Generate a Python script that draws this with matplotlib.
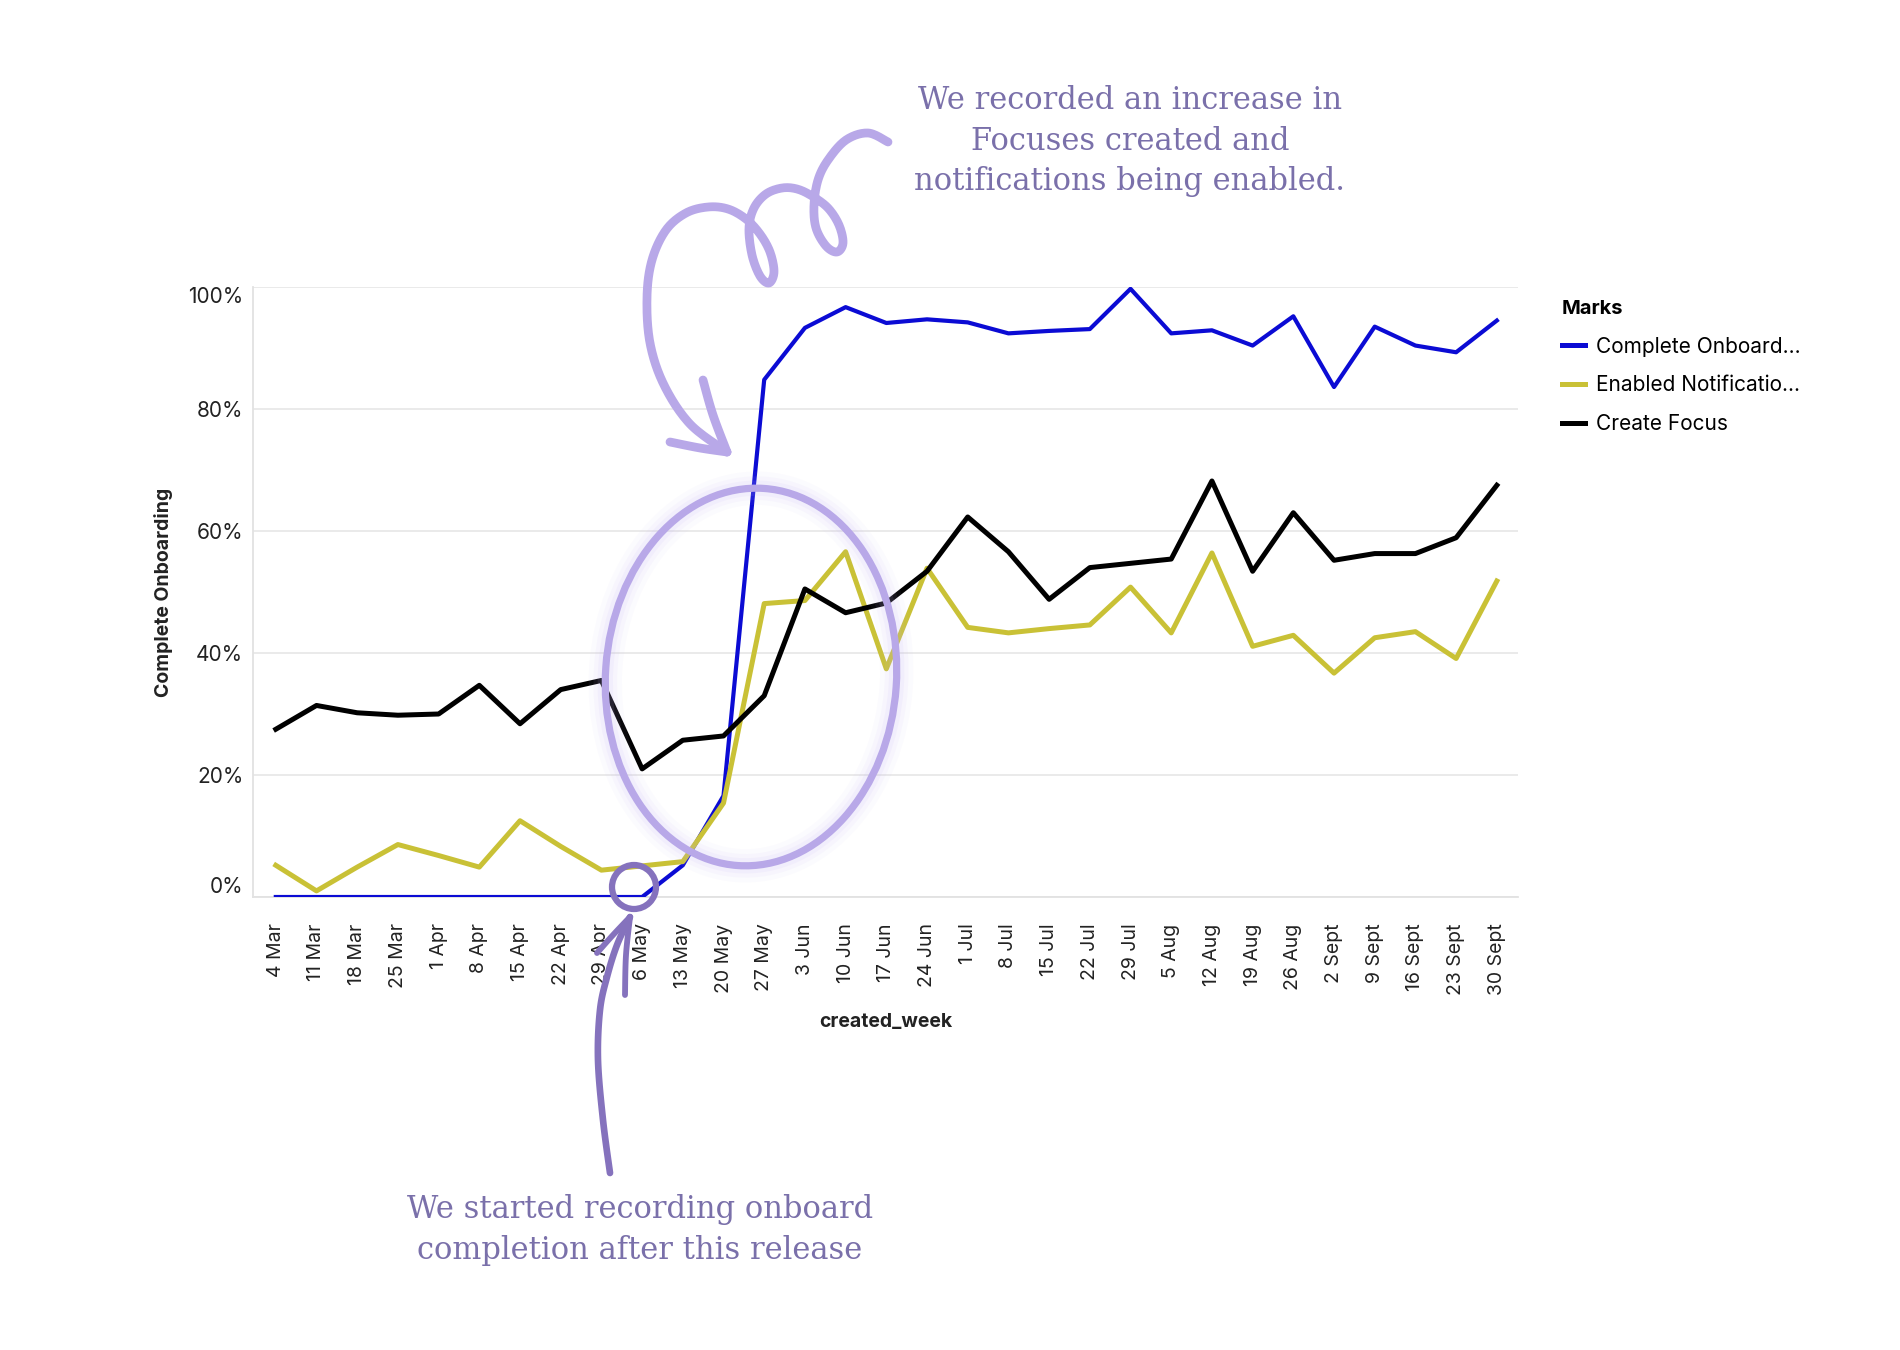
import numpy as np
import matplotlib
matplotlib.use("Agg")
from matplotlib import pyplot as plt
from matplotlib.patches import Ellipse
from matplotlib.lines import Line2D
from matplotlib.transforms import Affine2D

weeks = ["4 Mar", "11 Mar", "18 Mar", "25 Mar", "1 Apr", "8 Apr", "15 Apr", "22 Apr",
         "29 Apr", "6 May", "13 May", "20 May", "27 May", "3 Jun", "10 Jun", "17 Jun",
         "24 Jun", "1 Jul", "8 Jul", "15 Jul", "22 Jul", "29 Jul", "5 Aug", "12 Aug",
         "19 Aug", "26 Aug", "2 Sept", "9 Sept", "16 Sept", "23 Sept", "30 Sept"]

complete_onboarding = [0, 0, 0, 0, 0, 0, 0, 0, 0, 0, 5.2, 16.6, 84.8, 93.3, 96.7, 94.1,
                       94.7, 94.2, 92.4, 92.8, 93.1, 99.7, 92.4, 92.9, 90.4, 95.2, 83.6,
                       93.5, 90.4, 89.3, 94.5]
enabled_notifications = [5.2, 1.0, 4.9, 8.6, 6.8, 4.9, 12.5, 8.3, 4.4, 5.1, 5.8, 15.4,
                         48.1, 48.6, 56.6, 37.4, 53.9, 44.2, 43.3, 44.0, 44.6, 50.8, 43.3,
                         56.4, 41.1, 42.9, 36.7, 42.5, 43.5, 39.1, 51.8]
create_focus = [27.5, 31.4, 30.2, 29.8, 30.0, 34.7, 28.4, 34.0, 35.5, 21.0, 25.7, 26.4,
                33.0, 50.5, 46.6, 48.2, 53.4, 62.3, 56.6, 48.8, 54.0, 54.7, 55.4, 68.2,
                53.4, 63.0, 55.2, 56.3, 56.3, 58.9, 67.5]

y_ticks = [0, 20, 40, 60, 80, 100]
legend_labels = ["Complete Onboard...", "Enabled Notificatio...", "Create Focus"]

note_top = "We recorded an increase in\nFocuses created and\nnotifications being enabled."
note_bottom = "We started recording onboard\ncompletion after this release"

BLUE = "#0b0bd4"
YELLOW = "#c9c136"
BLACK = "#000000"
NOTE_COLOR = "#7a70aa"
LAVENDER = "#b8a8e8"
PURPLE = "#8572bd"

plt.rcParams["font.family"] = ["Inter", "DejaVu Sans"]

W, H = 1900, 1350
fig = plt.figure(figsize=(W / 100, H / 100), dpi=100)
ax = fig.add_axes([253 / W, 1 - 897 / H, (1518 - 253) / W, (897 - 287) / H])

x = np.arange(len(weeks))
ax.plot(x, complete_onboarding, color=BLUE, lw=3.0, label=legend_labels[0], zorder=3)
ax.plot(x, enabled_notifications, color=YELLOW, lw=3.6, label=legend_labels[1], zorder=3)
ax.plot(x, create_focus, color=BLACK, lw=3.6, label=legend_labels[2], zorder=4)

ax.set_xlim(-0.56, len(weeks) - 1 + 0.52)
ax.set_ylim(0, 100)
ax.set_xticks(x, labels=weeks, rotation=90, fontsize=14, color="#222222")
ax.set_yticks(y_ticks, labels=[f"{v}%" for v in y_ticks], fontsize=15, color="#222222")
ytl = ax.get_yticklabels()
ytl[0].set_va("bottom")
ytl[-1].set_va("top")
ax.tick_params(axis="both", length=0)
ax.tick_params(axis="x", pad=19)
ax.tick_params(axis="y", pad=7)
ax.yaxis.grid(True, color="#e8e8e8", lw=1.3)
ax.set_axisbelow(True)
for side in ["top", "right"]:
    ax.spines[side].set_visible(False)
for side in ["left", "bottom"]:
    ax.spines[side].set_color("#e2e2e2")
    ax.spines[side].set_linewidth(1.3)

ax.set_ylabel("Complete Onboarding", fontsize=14, fontweight="bold", color="#222222")
ax.yaxis.set_label_coords(-0.063, 0.5)
ax.set_xlabel("created_week", fontsize=14, fontweight="bold", color="#222222")
ax.xaxis.set_label_coords(0.5, -0.19)

leg = ax.legend(title="Marks", loc="upper left", bbox_to_anchor=(1543 / W, 1 - 281 / H),
                bbox_transform=fig.transFigure, frameon=False, alignment="left",
                fontsize=15, title_fontsize=14.5, handlelength=1.1, handletextpad=0.55,
                labelspacing=0.9)
leg.get_title().set_fontweight("bold")
for line in leg.get_lines():
    line.set_linewidth(3.6)

# annotations, drawn in pixel coordinates (y going down)
px = Affine2D().scale(1 / W, -1 / H).translate(0, 1) + fig.transFigure


def smooth(pts, n=14):
    p = np.asarray(pts, float)
    p = np.vstack([p[0], p, p[-1]])
    t = np.linspace(0, 1, n, endpoint=False)[:, None]
    out = []
    for i in range(1, len(p) - 2):
        p0, p1, p2, p3 = p[i - 1], p[i], p[i + 1], p[i + 2]
        out.append(0.5 * (2 * p1 + (-p0 + p2) * t + (2 * p0 - 5 * p1 + 4 * p2 - p3) * t ** 2
                          + (-p0 + 3 * p1 - 3 * p2 + p3) * t ** 3))
    out.append(p[-2][None])
    return np.vstack(out)


def stroke(pts, color, lw, alpha=1.0):
    arr = smooth(pts)
    fig.add_artist(Line2D(arr[:, 0], arr[:, 1], transform=px, color=color, lw=lw,
                          alpha=alpha, solid_capstyle="round", solid_joinstyle="round"))


# big ellipse with soft glow
for glow_w, glow_a in [(24, 0.05), (17, 0.07), (11, 0.10)]:
    fig.add_artist(Ellipse((751, 677), 291, 378, angle=4, transform=px, fill=False,
                           ec="#c4b2f7", lw=glow_w, alpha=glow_a))
fig.add_artist(Ellipse((751, 677), 291, 378, angle=4, transform=px, fill=False,
                       ec=LAVENDER, lw=5.2))

# small circle at the release point
fig.add_artist(Ellipse((634, 887), 44, 44, transform=px, fill=False, ec=PURPLE, lw=4.5,
                       zorder=5))

# curly arrow from the top note
curl = [(888, 142), (868, 133), (846, 140), (828, 160), (818, 180), (814, 205),
        (816, 228), (826, 246), (837, 252), (843, 243), (839, 225), (828, 208),
        (812, 196), (797, 189), (782, 188), (766, 194), (754, 208), (749, 228),
        (752, 255), (760, 276), (769, 283), (774, 272), (770, 252), (760, 234),
        (746, 219), (728, 209), (708, 207), (686, 213), (666, 230), (652, 260),
        (647, 297), (650, 343), (664, 385), (690, 424), (727, 452)]
stroke(curl, LAVENDER, 6.3)
stroke([(703, 380), (713, 415), (727, 452)], LAVENDER, 6.3)
stroke([(670, 442), (700, 448), (727, 452)], LAVENDER, 6.3)

# arrow from the bottom note
shaft = [(610, 1173), (603, 1120), (598, 1060), (600, 1010), (607, 977), (617, 945),
         (630, 917)]
stroke(shaft, PURPLE, 4.8)
stroke([(597, 953), (613, 935), (630, 917)], PURPLE, 4.2)
stroke([(625, 995), (626, 955), (630, 917)], PURPLE, 4.2)

serif = ["DejaVu Serif"]
fig.text(1130, 141, note_top, transform=px, ha="center", va="center", fontsize=22,
         color=NOTE_COLOR, family=serif, linespacing=1.4)
fig.text(640, 1230, note_bottom, transform=px, ha="center", va="center", fontsize=22,
         color=NOTE_COLOR, family=serif, linespacing=1.4)

fig.savefig("out.png", dpi=100)
plt.close(fig)
